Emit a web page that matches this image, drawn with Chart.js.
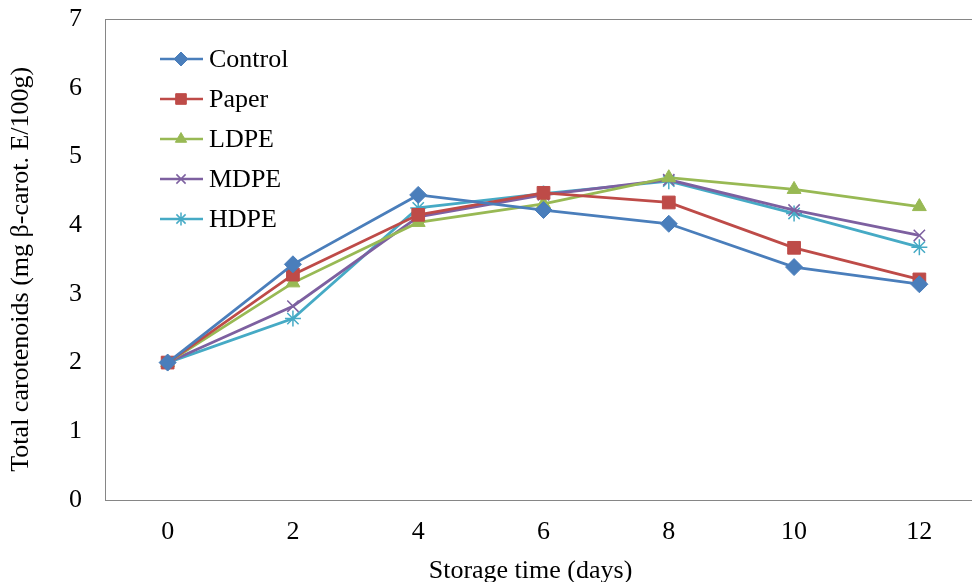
<!DOCTYPE html>
<html>
<head>
<meta charset="utf-8">
<script src="https://cdn.jsdelivr.net/npm/chart.js@4.4.1/dist/chart.umd.min.js"></script>
<style>
  html, body { margin: 0; padding: 0; overflow: hidden; background: #fff; }
  #wrap { width: 992px; height: 600px; }
</style>
</head>
<body>
<div id="wrap"><canvas id="chart" width="992" height="600"></canvas></div>
<script>
const days = ['0', '2', '4', '6', '8', '10', '12'];
const control = [2.0, 3.43, 4.44, 4.22, 4.02, 3.39, 3.14];
const paper = [2.0, 3.28, 4.15, 4.47, 4.33, 3.67, 3.21];
const ldpe = [2.0, 3.16, 4.04, 4.31, 4.69, 4.52, 4.27];
const mdpe = [2.0, 2.82, 4.12, 4.44, 4.66, 4.22, 3.85];
const hdpe = [2.0, 2.64, 4.25, 4.46, 4.64, 4.17, 3.68];

const FONT = 'Liberation Serif';
const FSIZE = 26;

const series = [
  { label: 'Control', data: control, color: '#4a7ebb', style: 'rectRot', radius: 8.5, bw: 1 },
  { label: 'Paper', data: paper, color: '#be4b48', style: 'rect', radius: 9, bw: 1 },
  { label: 'LDPE', data: ldpe, color: '#98b954', style: 'triangle', radius: 8, bw: 1 },
  { label: 'MDPE', data: mdpe, color: '#7d60a0', style: 'crossRot', radius: 8, bw: 1.5 },
  { label: 'HDPE', data: hdpe, color: '#46aac5', style: 'star', radius: 8, bw: 1.5 }
];

// plot frame (left, top, bottom lines)
const framePlugin = {
  id: 'frame',
  beforeDatasetsDraw(chart) {
    const { ctx, chartArea: a } = chart;
    ctx.save();
    ctx.strokeStyle = '#868686';
    ctx.lineWidth = 1;
    ctx.strokeRect(a.left + 0.5, a.top + 0.5, a.right - a.left, a.bottom - a.top);
    ctx.restore();
  }
};

// legend drawn inside the plot
const legendPlugin = {
  id: 'insideLegend',
  afterDatasetsDraw(chart) {
    const ctx = chart.ctx;
    ctx.save();
    chart.data.datasets.forEach((ds, i) => {
      const y = 59 + i * 40;
      ctx.strokeStyle = ds.borderColor;
      ctx.lineWidth = 2.5;
      ctx.beginPath();
      ctx.moveTo(160, y);
      ctx.lineTo(203, y);
      ctx.stroke();
      ctx.fillStyle = ds.pointBackgroundColor;
      ctx.strokeStyle = ds.pointBorderColor;
      ctx.lineWidth = ds.pointBorderWidth;
      Chart.helpers.drawPoint(ctx, {
        pointStyle: ds.pointStyle,
        radius: ds.pointRadius - 1.5,
        borderWidth: ds.pointBorderWidth,
        rotation: 0
      }, 181, y);
      ctx.fillStyle = '#000';
      ctx.font = FSIZE + 'px "' + FONT + '"';
      ctx.textBaseline = 'middle';
      ctx.textAlign = 'left';
      ctx.fillText(ds.label, 209, y + 1);
    });
    ctx.restore();
  }
};

new Chart(document.getElementById('chart'), {
  type: 'line',
  data: {
    labels: days,
    datasets: series.map(s => ({
      label: s.label,
      data: s.data,
      borderColor: s.color,
      backgroundColor: s.color,
      borderWidth: 2.8,
      pointStyle: s.style,
      pointRadius: s.radius,
      pointHoverRadius: s.radius,
      pointBackgroundColor: s.color,
      pointBorderColor: s.color,
      pointBorderWidth: s.bw,
      tension: 0,
      fill: false
    }))
  },
  options: {
    responsive: false,
    animation: false,
    layout: { padding: { left: 0, right: 0, top: 19, bottom: 0 } },
    plugins: {
      legend: { display: false },
      tooltip: { enabled: false }
    },
    scales: {
      x: {
        type: 'category',
        offset: true,
        grid: { display: false, drawTicks: false },
        border: { display: false },
        ticks: { color: '#000', font: { family: FONT, size: FSIZE }, padding: 17 },
        title: {
          display: true,
          text: 'Storage time (days)    ',
          color: '#000',
          font: { family: FONT, size: FSIZE },
          padding: { top: 0, bottom: 13 }
        },
        afterFit(scale) {
          scale.height = 100;
          scale.paddingLeft = 0;
          scale.paddingRight = 0;
        }
      },
      y: {
        min: 0,
        max: 7,
        grid: { display: false, drawTicks: false },
        border: { display: false },
        ticks: { stepSize: 1, color: '#000', font: { family: FONT, size: FSIZE }, padding: 23 },
        title: {
          display: true,
          text: 'Total carotenoids (mg β-carot. E/100g)   ',
          color: '#000',
          font: { family: FONT, size: FSIZE },
          padding: { top: 6, bottom: 0 }
        },
        afterFit(scale) {
          scale.width = 105;
          scale.paddingTop = 0;
          scale.paddingBottom = 0;
        }
      }
    }
  },
  plugins: [framePlugin, legendPlugin]
});
</script>
</body>
</html>
